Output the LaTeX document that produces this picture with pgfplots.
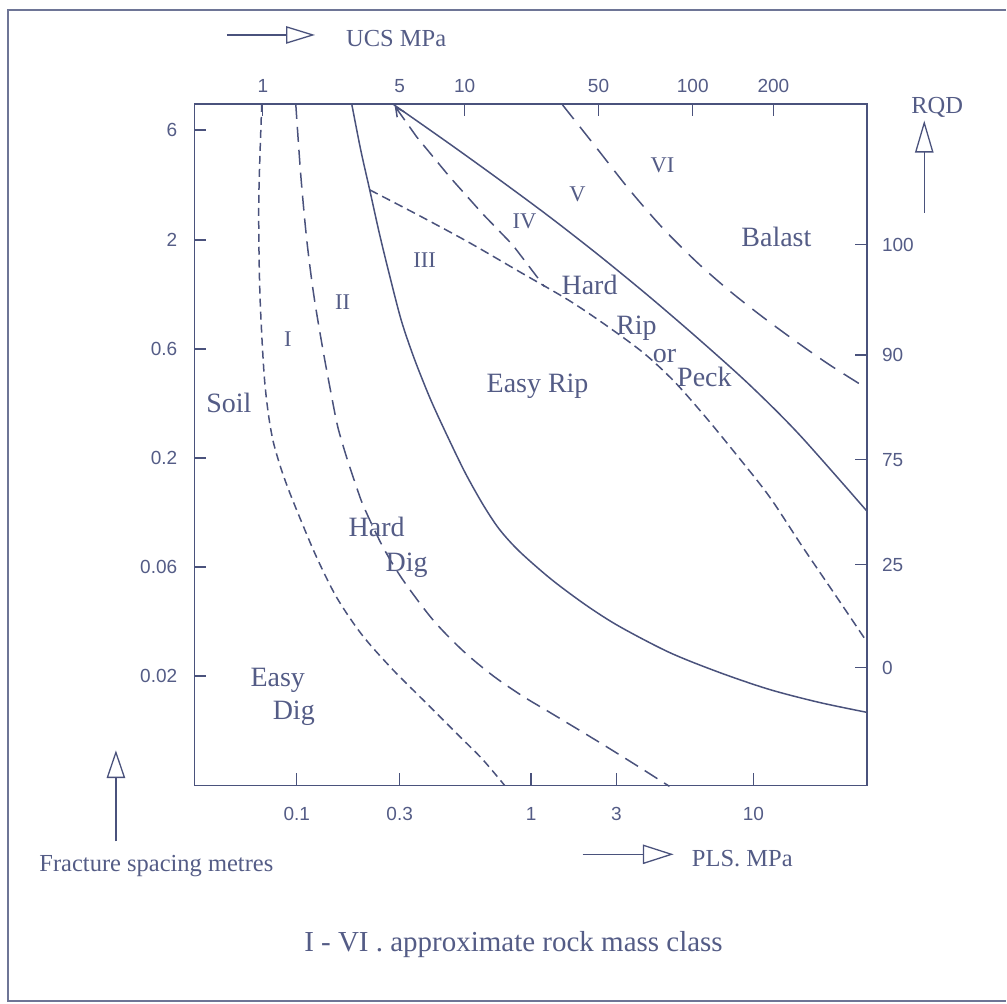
\documentclass[border=0pt]{standalone}
\usepackage{fontspec}
\setmainfont{Liberation Serif}
\newfontfamily\tickfont{Liberation Sans}
\usepackage{pgfplots}
\pgfplotsset{compat=1.18}
\usetikzlibrary{arrows.meta}
\definecolor{ink}{RGB}{74,82,124}
\definecolor{txt}{RGB}{84,92,134}

\pgfplotsset{
  base/.style={
    x=1bp, y=1bp,
    xmin=194.5, xmax=867.5, ymin=-786, ymax=-104,
    axis line style={ink, line width=1.6bp},
    tick align=inside,
    major tick length=12bp,
    minor tick num=0,
    every tick/.style={ink, line width=1.4bp},
    tick label style={font=\tickfont\fontsize{19bp}{21bp}\selectfont, text=txt, inner sep=0pt},
    clip=false,
  },
}
\tikzset{
  lab/.style={anchor=base, text=txt, font=\fontsize{28bp}{30bp}\selectfont},
  num/.style={anchor=base, text=txt, font=\fontsize{22.5bp}{24bp}\selectfont},
  ttl/.style={anchor=base west, text=txt, font=\fontsize{24.5bp}{26bp}\selectfont},
}

\begin{document}
\begin{tikzpicture}
\begin{axis}[base,
  xtick={297,400,531.5,617,754}, xticklabels={0.1,0.3,1,3,10},
  ytick={-676.7,-567.3,-458.3,-349.3,-240,-130}, yticklabels={0.02,0.06,0.2,0.6,2,6},
  xtick pos=bottom, ytick pos=left,
  xticklabel style={yshift=-22bp},
  yticklabel style={xshift=-17bp},
]
% Soil / I boundary, short dash
\addplot[ink, line width=1.5bp, smooth, dash pattern=on 8bp off 5bp] coordinates {
(262,-104) (259,-200) (260,-290) (264,-370) (268,-410) (273,-440) (280,-465) (288,-488)
(300,-518) (317,-558) (337,-598) (362,-635) (392,-669) (426,-703) (460,-737) (483,-760)
(505,-786)};
% I / II boundary, long dash
\addplot[ink, line width=1.5bp, smooth, dash pattern=on 15bp off 8bp] coordinates {
(296,-104) (301,-175) (307,-240) (314,-295) (323,-349) (331,-392) (338,-427) (347,-458)
(356,-485) (364,-507) (383,-547) (403,-580) (433,-620) (463,-651) (493,-676) (522,-696)
(552,-714) (600,-743) (637,-766) (670,-787)};
% Dig / Rip boundary, solid
\addplot[ink, line width=1.5bp, smooth] coordinates {
(352,-104) (361,-150) (370,-190) (380,-235) (391,-280) (402,-322) (415,-360) (431,-400)
(448,-437) (466,-474) (484,-506) (500,-530) (520,-552) (552,-580) (587,-606) (620,-627)
(670,-653) (720,-673) (770,-690) (820,-703) (868,-713)};
% Easy rip / Hard rip boundary, short dash
\addplot[ink, line width=1.5bp, smooth, dash pattern=on 9bp off 5bp] coordinates {
(370,-190) (420,-216) (470,-243) (520,-272) (570,-301) (610,-328) (645,-354) (675,-382)
(705,-416) (737,-455) (770,-497) (803,-547) (837,-597) (868,-643)};
% IV line, long dash with arrow tip
\addplot[ink, line width=1.5bp, dash pattern=on 15bp off 8bp, {Straight Barb[length=9bp,width=9bp]}-] coordinates {
(395,-106) (417,-137) (450,-177) (483,-214) (513,-245) (545,-287)};
% Rip / Blast boundary, solid
\addplot[ink, line width=1.5bp, smooth] coordinates {
(393,-104) (450,-144) (500,-180) (550,-217) (600,-256) (650,-297) (700,-340) (750,-385)
(800,-435) (868,-512)};
% VI boundary, long dash
\addplot[ink, line width=1.5bp, smooth, dash pattern=on 18bp off 10bp] coordinates {
(563,-105) (597,-148) (630,-190) (663,-228) (697,-262) (730,-291) (763,-317) (797,-342)
(830,-365) (868,-389)};

% region labels
\node[lab] at (axis cs:229,-413) {Soil};
\node[num] at (axis cs:288,-347) {I};
\node[num] at (axis cs:343,-310) {II};
\node[num] at (axis cs:425,-268) {III};
\node[num] at (axis cs:525,-229) {IV};
\node[num] at (axis cs:578,-202) {V};
\node[num] at (axis cs:663,-173) {VI};
\node[lab] at (axis cs:538,-393) {Easy Rip};
\node[lab] at (axis cs:777,-247) {Balast};
\node[lab] at (axis cs:590,-295) {Hard};
\node[lab] at (axis cs:637,-335) {Rip};
\node[lab] at (axis cs:665,-363) {or};
\node[lab] at (axis cs:705,-387) {Peck};
\node[lab] at (axis cs:377,-537) {Hard};
\node[lab] at (axis cs:407,-572) {Dig};
\node[lab] at (axis cs:278,-687) {Easy};
\node[lab] at (axis cs:294,-720) {Dig};

% axis titles with arrows
\draw[ink, line width=1.3bp] (axis cs:227,-35) -- (axis cs:287,-35);
\draw[ink, line width=1.3bp, line join=miter] (axis cs:287,-27) -- (axis cs:313,-35) -- (axis cs:287,-43) -- cycle;
\node[ttl] at (axis cs:343,-47) {UCS MPa};

\draw[ink, line width=1.3bp] (axis cs:925,-213) -- (axis cs:925,-152);
\draw[ink, line width=1.3bp, line join=miter] (axis cs:916.5,-152) -- (axis cs:925,-123) -- (axis cs:933.5,-152) -- cycle;
\node[ttl, anchor=base] at (axis cs:938,-114) {RQD};

\draw[ink, line width=1.3bp] (axis cs:116,-842) -- (axis cs:116,-778);
\draw[ink, line width=1.3bp, line join=miter] (axis cs:107.5,-778) -- (axis cs:116,-753) -- (axis cs:124.5,-778) -- cycle;
\node[ttl] at (axis cs:36,-872) {Fracture spacing metres};

\draw[ink, line width=1.3bp] (axis cs:583,-855) -- (axis cs:644,-855);
\draw[ink, line width=1.3bp, line join=miter] (axis cs:644,-846) -- (axis cs:672,-855) -- (axis cs:644,-864) -- cycle;
\node[ttl] at (axis cs:689,-867) {PLS. MPa};

\node[anchor=base west, text=txt, font=\fontsize{29bp}{31bp}\selectfont] at (axis cs:301,-952) {I - VI . approximate rock mass class};

% outer frame (right side cropped)
\draw[ink!80, line width=1.6bp] (axis cs:1007,-10) -- (axis cs:8,-10) -- (axis cs:8,-1002) -- (axis cs:1007,-1002);
\path (axis cs:0,0) rectangle (axis cs:1007,-1004);
\end{axis}
\begin{axis}[base,
  xtick={263,465,599,693.3,774}, xticklabels={1,10,50,100,200},
  extra x ticks={400}, extra x tick labels={5},
  extra x tick style={major tick length=0pt},
  ytick={-668.3,-565,-460,-355.3,-245}, yticklabels={0,25,75,90,100},
  xtick pos=top, ytick pos=right, xticklabel pos=top, yticklabel pos=right,
  xticklabel style={yshift=11bp},
  yticklabel style={xshift=15bp},
]
\end{axis}
\end{tikzpicture}
\end{document}
